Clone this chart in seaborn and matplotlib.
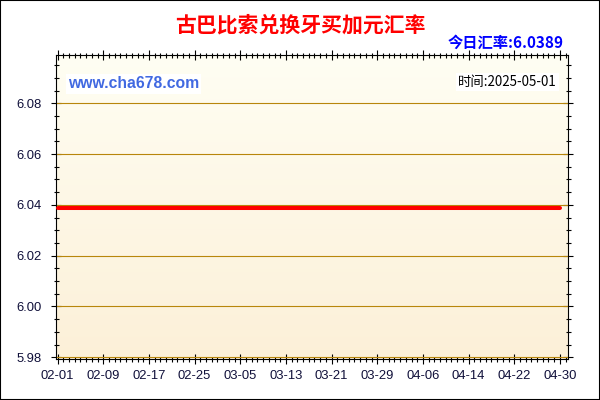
import pandas as pd
import seaborn as sns
import matplotlib.pyplot as plt
import matplotlib.dates as mdates
from matplotlib.colors import LinearSegmentedColormap
from matplotlib.patches import Rectangle
from matplotlib.ticker import MultipleLocator
import numpy as np

# 数据: 2025-02-01 ~ 2025-04-30 每日汇率 (图中为一条水平线)
dates = pd.date_range('2025-02-01', '2025-04-30', freq='D')
rates = [6.0389] * len(dates)
tick_dates = ['2025-02-01', '2025-02-09', '2025-02-17', '2025-02-25',
              '2025-03-05', '2025-03-13', '2025-03-21', '2025-03-29',
              '2025-04-06', '2025-04-14', '2025-04-22', '2025-04-30']
y_ticks = [5.98, 6.00, 6.02, 6.04, 6.06, 6.08]

title = '古巴比索兑换牙买加元汇率'
today_text = '今日汇率:6.0389'
site_text = 'www.cha678.com'
time_text = '时间:2025-05-01'

sns.set_style('white')
plt.rcParams['font.family'] = ['Liberation Sans', 'Noto Sans CJK SC', 'DejaVu Sans']
CJK = ['Noto Sans CJK SC', 'DejaVu Sans']

W, H = 600, 400
fig = plt.figure(figsize=(6, 4), dpi=100)
fig.patch.set_facecolor('white')
ax = fig.add_axes([55.7 / W, 1 - 359 / H, (568 - 55.7) / W, (359 - 55.3) / H])

df = pd.DataFrame({'date': dates, 'rate': rates})
sns.lineplot(data=df, x='date', y='rate', color='#ff0000', linewidth=2.9, ax=ax, zorder=3)

x0 = pd.Timestamp('2025-02-01') - pd.Timedelta(hours=8)
x1 = pd.Timestamp('2025-04-30') + pd.Timedelta(hours=34)
y0, y1 = 5.9793, 6.0989

# 背景渐变 (上浅下深)
grad = np.linspace(1, 0, 256).reshape(-1, 1)
cmap = LinearSegmentedColormap.from_list('bg', ['#fcf0d8', '#fffef3'])
ax.imshow(grad, extent=[mdates.date2num(x0), mdates.date2num(x1), y0, y1],
          aspect='auto', cmap=cmap, zorder=0, interpolation='bilinear')

ax.set_xlim(x0, x1)
ax.set_ylim(y0, y1)

for y in y_ticks:
    ax.axhline(y, color='#b8860b', lw=0.8, zorder=2)

ax.set_xticks(pd.to_datetime(tick_dates))
ax.xaxis.set_major_formatter(mdates.DateFormatter('%m-%d'))
ax.xaxis.set_minor_locator(MultipleLocator(1.0))
ax.set_yticks(y_ticks)
ax.yaxis.set_major_formatter(plt.FormatStrFormatter('%.2f'))
ax.yaxis.set_minor_locator(MultipleLocator(0.005))
ax.set_xlabel('')
ax.set_ylabel('')

for s in ax.spines.values():
    s.set_color('black')
    s.set_linewidth(0.8)

lab_color = '#10103a'
ax.tick_params(which='both', bottom=True, top=True, left=True, right=True,
               labelbottom=True, labelleft=True, labeltop=False, labelright=False,
               direction='inout', width=0.8, color='black')
ax.tick_params(axis='x', which='major', length=6.8, pad=4.8,
               labelsize=9.4, labelcolor=lab_color)
ax.tick_params(axis='x', which='minor', length=3.6)
ax.tick_params(axis='y', which='major', length=7.7, pad=6.2,
               labelsize=9.4, labelcolor=lab_color)
ax.tick_params(axis='y', which='minor', length=3.6)

def px(x, y):
    return x / W, 1 - y / H

fig.text(*px(300, 25), title, ha='center', va='center', color='#ff0000',
         fontsize=15, fontweight='bold', family=CJK)
fig.text(*px(564, 42.7), today_text, ha='right', va='center', color='#0000ff',
         fontsize=11, fontweight='bold', family=CJK)
fig.text(*px(68, 84), site_text, ha='left', va='center', color='#4169e1',
         fontsize=11.3, fontweight='bold', family=['Liberation Sans'],
         bbox=dict(facecolor='white', edgecolor='none', pad=1.5))
fig.text(*px(556.8, 81.7), time_text, ha='right', va='center', color='black',
         fontsize=9.6, family=CJK,
         bbox=dict(facecolor='white', edgecolor='none', pad=1.5))

fig.patches.append(Rectangle((0, 0), 1, 1, transform=fig.transFigure, fill=False,
                             edgecolor='black', linewidth=1.5, zorder=10))

fig.savefig('out.png', dpi=100)
